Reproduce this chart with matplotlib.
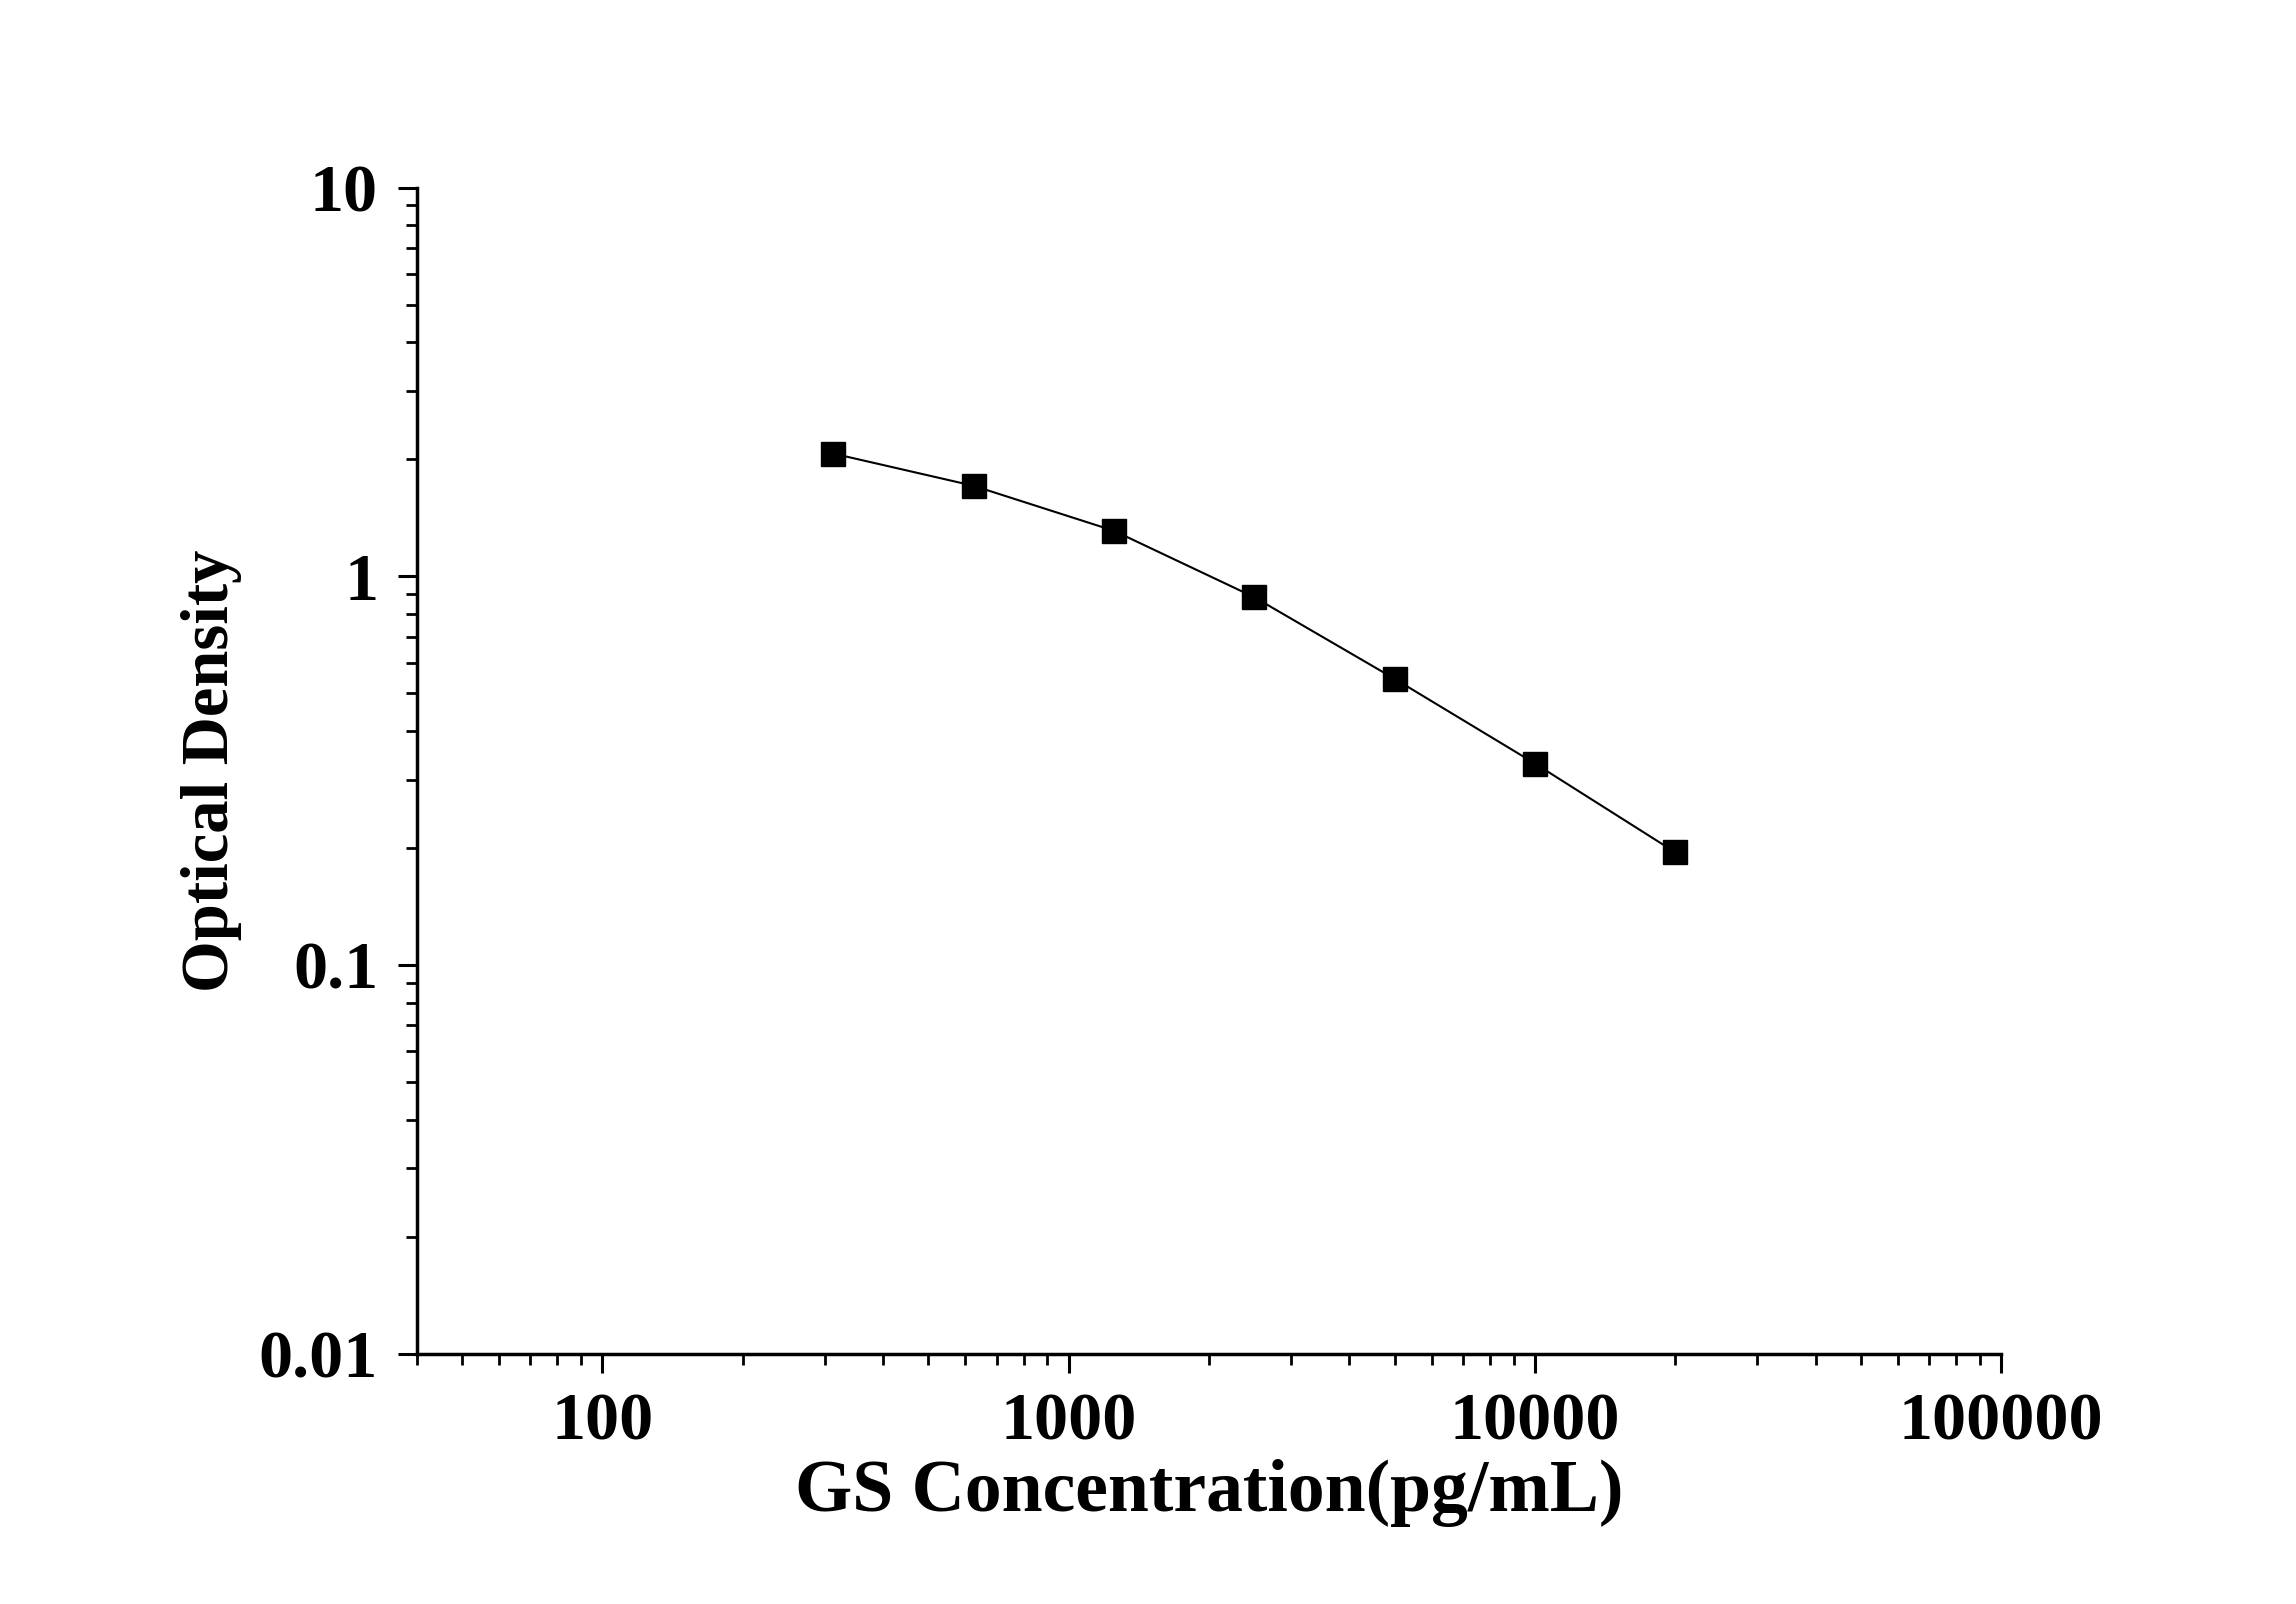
import matplotlib
matplotlib.use("Agg")
import matplotlib.pyplot as plt
from matplotlib.ticker import LogLocator, FixedLocator, FixedFormatter, NullFormatter

concentration = [312.5, 625, 1250, 2500, 5000, 10000, 20000]
optical_density = [2.07, 1.71, 1.31, 0.884, 0.545, 0.330, 0.195]
x_ticks = [100, 1000, 10000, 100000]
x_tick_labels = ["100", "1000", "10000", "100000"]
y_ticks = [0.01, 0.1, 1, 10]
y_tick_labels = ["0.01", "0.1", "1", "10"]

plt.rcParams['font.family'] = ['Liberation Serif', 'DejaVu Serif']
plt.rcParams['font.weight'] = 'bold'

fig = plt.figure(figsize=(22.96, 16.04), dpi=100)
ax = fig.add_axes([0.1816, 0.156, 0.690, 0.727])

ax.plot(concentration, optical_density, color='black', lw=1.5,
        marker='s', markersize=17, markerfacecolor='black', markeredgecolor='black')

ax.set_xscale('log')
ax.set_yscale('log')
ax.set_xlim(40, 100000)
ax.set_ylim(0.01, 10)

ax.xaxis.set_major_locator(FixedLocator(x_ticks))
ax.xaxis.set_major_formatter(FixedFormatter(x_tick_labels))
ax.yaxis.set_major_locator(FixedLocator(y_ticks))
ax.yaxis.set_major_formatter(FixedFormatter(y_tick_labels))
ax.xaxis.set_minor_locator(LogLocator(base=10, subs=range(2, 10), numticks=20))
ax.yaxis.set_minor_locator(LogLocator(base=10, subs=range(2, 10), numticks=20))
ax.xaxis.set_minor_formatter(NullFormatter())
ax.yaxis.set_minor_formatter(NullFormatter())

for side in ['top', 'right']:
    ax.spines[side].set_visible(False)
for side in ['left', 'bottom']:
    ax.spines[side].set_linewidth(2.5)

ax.tick_params(which='major', direction='out', length=14, width=2.2, labelsize=49, pad=14)
ax.tick_params(which='minor', direction='out', length=8, width=2.0)

ax.set_xlabel('GS Concentration(pg/mL)', fontsize=53, fontweight='bold', labelpad=4)
ax.set_ylabel('Optical Density', fontsize=48, fontweight='bold', labelpad=12)

for lab in ax.get_xticklabels() + ax.get_yticklabels():
    lab.set_fontweight('bold')

fig.savefig('out.png', dpi=100, facecolor='white')
